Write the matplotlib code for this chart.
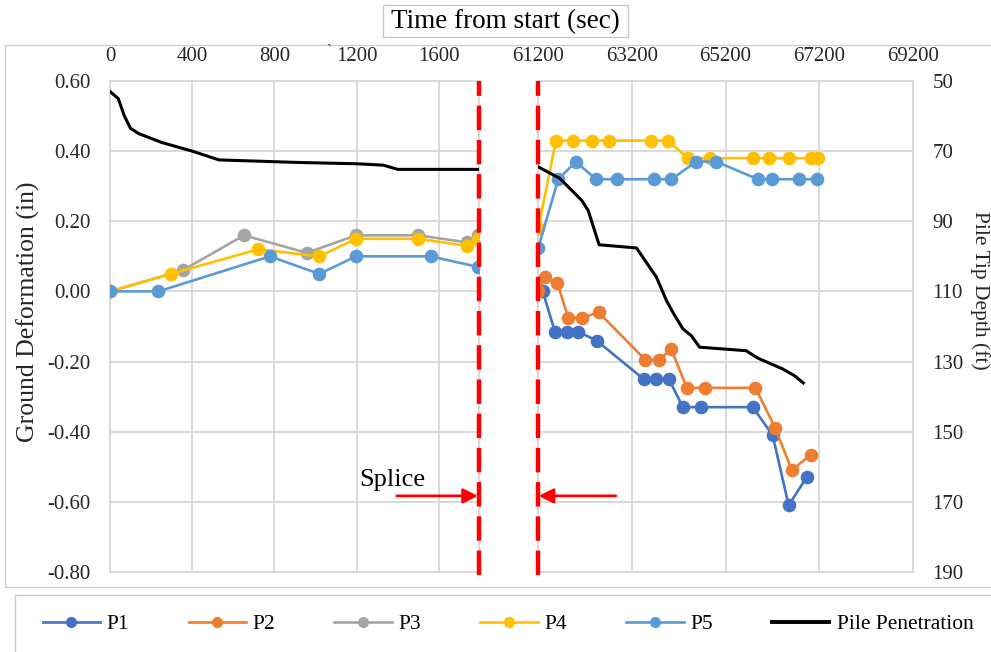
import matplotlib
matplotlib.use("Agg")
import matplotlib.pyplot as plt
from matplotlib.lines import Line2D
from matplotlib.patches import Rectangle

plt.rcParams['font.family'] = ['Liberation Serif', 'DejaVu Serif']

# ground deformation (in) before the splice
t_pre_p3 = [0, 353, 652, 957, 1197, 1500, 1735, 1790]
p3_pre = [0.00, 0.06, 0.16, 0.11, 0.16, 0.16, 0.14, 0.16]
t_pre_p4 = [0, 295, 721, 1018, 1197, 1500, 1735, 1790]
p4_pre = [0.00, 0.05, 0.12, 0.10, 0.15, 0.15, 0.13, 0.15]
t_pre_p5 = [0, 235, 778, 1018, 1197, 1560, 1790]
p5_pre = [0.00, 0.00, 0.10, 0.05, 0.10, 0.10, 0.07]

# ground deformation (in) after the splice
t_post_p1 = [61300, 61562, 61810, 62058, 62449, 63455, 63725, 63993, 64291, 64683, 65781, 66206, 66547, 66930]
p1_post = [0.00, -0.115, -0.115, -0.115, -0.14, -0.25, -0.25, -0.25, -0.33, -0.33, -0.33, -0.41, -0.61, -0.53]
t_post_p2 = [61207, 61349, 61611, 61845, 62128, 62496, 63491, 63780, 64044, 64376, 64753, 65838, 66264, 66615, 67023]
p2_post = [0.00, 0.04, 0.025, -0.075, -0.075, -0.06, -0.195, -0.195, -0.165, -0.275, -0.275, -0.275, -0.39, -0.51, -0.465]
t_post_p4 = [61207, 61583, 61938, 62342, 62711, 63619, 63972, 64398, 64874, 65781, 66136, 66547, 67023, 67164]
p4_post = [0.18, 0.43, 0.43, 0.43, 0.43, 0.43, 0.43, 0.38, 0.38, 0.38, 0.38, 0.38, 0.38, 0.38]
t_post_p5 = [61207, 61632, 62008, 62434, 62887, 63668, 64044, 64577, 65002, 65889, 66194, 66762, 67143]
p5_post = [0.125, 0.32, 0.37, 0.32, 0.32, 0.32, 0.32, 0.37, 0.37, 0.32, 0.32, 0.32, 0.32]

# pile tip depth (ft)
t_pile_pre = [0, 40, 70, 100, 140, 250, 400, 530, 900, 1200, 1330, 1400, 1800]
depth_pre = [53, 55, 60, 63.5, 65, 67.5, 70, 72.5, 73.2, 73.6, 74.0, 75.2, 75.2]
t_pile_post = [61207, 61668, 62130, 62270, 62504, 63300, 63726, 63940, 64079, 64292, 64470, 64647,
               65640, 65887, 66419, 66668, 66860]
depth_post = [74.5, 77.8, 84, 86.9, 96.7, 97.6, 105.9, 112.6, 116, 120.7, 122.6, 125.9,
              126.9, 129, 132.1, 134, 136.1]

xticks_pre = [0, 400, 800, 1200, 1600]
xticks_post = [61200, 63200, 65200, 67200, 69200]
yticks_def = [0.6, 0.4, 0.2, 0.0, -0.2, -0.4, -0.6, -0.8]
yticks_depth = [50, 70, 90, 110, 130, 150, 170, 190]

colors = {'P1': '#4472C4', 'P2': '#ED7D31', 'P3': '#A5A5A5', 'P4': '#FFC000', 'P5': '#5B9BD5'}
grid_c = '#D9D9D9'
tick_c = '#262626'
lw = 1.9
ms = 8.8
tick_fs = 15

fig = plt.figure(figsize=(9.91, 6.52), dpi=100)

# outer chart frame and legend frame
fig.patches.append(Rectangle((5 / 991, 1 - 587 / 652), 1.0, (587 - 45) / 652, transform=fig.transFigure,
                             fill=False, edgecolor='#D0D0D0', lw=1.0))
fig.patches.append(Rectangle((15 / 991, -0.01), 1.0, (652 - 595) / 652 + 0.01, transform=fig.transFigure,
                             fill=False, edgecolor='#C8C8C8', lw=1.0))

ax1 = fig.add_axes([110 / 991, 1 - 572 / 652, 369 / 991, 491 / 652])
ax2 = fig.add_axes([538 / 991, 1 - 572 / 652, 375 / 991, 491 / 652])

for ax in (ax1, ax2):
    ax.set_ylim(-0.8, 0.6)
    ax.set_yticks(yticks_def)
    ax.grid(True, color=grid_c, lw=1.4, zorder=0)
    ax.set_axisbelow(True)
    for s in ax.spines.values():
        s.set_color(grid_c)
        s.set_linewidth(1.4)
    ax.xaxis.tick_top()
    ax.tick_params(axis='both', length=0, labelsize=tick_fs, colors=tick_c)
    ax.tick_params(axis='x', pad=11)

ax1.set_xlim(0, 1795)
ax1.set_xticks(xticks_pre)
ax1.set_yticklabels(['%.2f' % v for v in yticks_def])
ax1.tick_params(axis='y', pad=14)

ax2.set_xlim(61200, 69200)
ax2.set_xticks(xticks_post)
ax2.tick_params(axis='y', labelleft=False)

# deformation series
ax1.plot(t_pre_p3, p3_pre, '-o', color=colors['P3'], lw=lw, ms=ms, zorder=3)
ax1.plot(t_pre_p4, p4_pre, '-o', color=colors['P4'], lw=lw, ms=ms, zorder=3)
ax1.plot(t_pre_p5, p5_pre, '-o', color=colors['P5'], lw=lw, ms=ms, zorder=3)

ax2.plot(t_post_p1, p1_post, '-o', color=colors['P1'], lw=lw, ms=ms, zorder=3)
ax2.plot(t_post_p2, p2_post, '-o', color=colors['P2'], lw=lw, ms=ms, zorder=3)
ax2.plot(t_post_p4, p4_post, '-o', color=colors['P4'], lw=lw, ms=ms, zorder=3)
ax2.plot(t_post_p5, p5_post, '-o', color=colors['P5'], lw=lw, ms=ms, zorder=3)

# pile penetration on the depth axis
ax1b = ax1.twinx()
ax2b = ax2.twinx()
for axb in (ax1b, ax2b):
    axb.set_ylim(190, 50)
    axb.set_yticks(yticks_depth)
    for s in axb.spines.values():
        s.set_visible(False)
    axb.tick_params(axis='y', length=0, labelsize=tick_fs, colors=tick_c, pad=14)
ax1b.tick_params(axis='y', labelright=False)
ax1b.plot(t_pile_pre, depth_pre, color='black', lw=2.2)
ax2b.plot(t_pile_post, depth_post, color='black', lw=2.2)

# splice markers
ax1b.axvline(1795, ymin=-0.007, ymax=1, color='red', lw=3.2, ls=(0, (5.5, 2.2)), clip_on=False, zorder=10)
ax2b.axvline(61200, ymin=-0.007, ymax=1, color='red', lw=3.2, ls=(0, (5.5, 2.2)), clip_on=False, zorder=10)
ax1.annotate('', xy=(1790, -0.583), xytext=(1395, -0.583),
             arrowprops=dict(arrowstyle='-|>', color='red', lw=2, mutation_scale=22,
                             shrinkA=0, shrinkB=0), annotation_clip=False)
ax2.annotate('', xy=(61215, -0.583), xytext=(62860, -0.583),
             arrowprops=dict(arrowstyle='-|>', color='red', lw=2, mutation_scale=22,
                             shrinkA=0, shrinkB=0), annotation_clip=False)
ax1.text(1375, -0.537, 'Splice', fontsize=19, ha='center', va='center', color='black')

# titles
fig.patches.append(Rectangle((383 / 991, 1 - 37 / 652), 245 / 991, 32 / 652, transform=fig.transFigure,
                             fill=False, edgecolor='#C8C8C8', lw=1.0))
fig.text(505 / 991, 1 - 22 / 652, 'Time from start (sec)', fontsize=19.5, ha='center', va='center')
fig.text(329 / 991, 1 - 50 / 652, '`', fontsize=11, ha='center', va='center', color=tick_c)
fig.text(28 / 991, 1 - 312 / 652, 'Ground Deformation (in)', rotation=90, fontsize=18.5,
         ha='center', va='center', color=tick_c)
fig.text(980 / 991, 1 - 290 / 652, 'Pile Tip Depth (ft)', rotation=270, fontsize=15.5,
         ha='center', va='center', color=tick_c)

# legend
handles = [Line2D([], [], color=colors[k], lw=lw, marker='o', ms=7) for k in ['P1', 'P2', 'P3', 'P4', 'P5']]
handles.append(Line2D([], [], color='black', lw=2.8))
labels = ['P1', 'P2', 'P3', 'P4', 'P5', 'Pile Penetration']
fig.legend(handles, labels, loc='center', bbox_to_anchor=(508 / 991, 1 - 624 / 652), ncol=6,
           frameon=False, fontsize=15.5, handlelength=2.65, handletextpad=0.33, columnspacing=2.75)

fig.savefig('out.png', dpi=100)
